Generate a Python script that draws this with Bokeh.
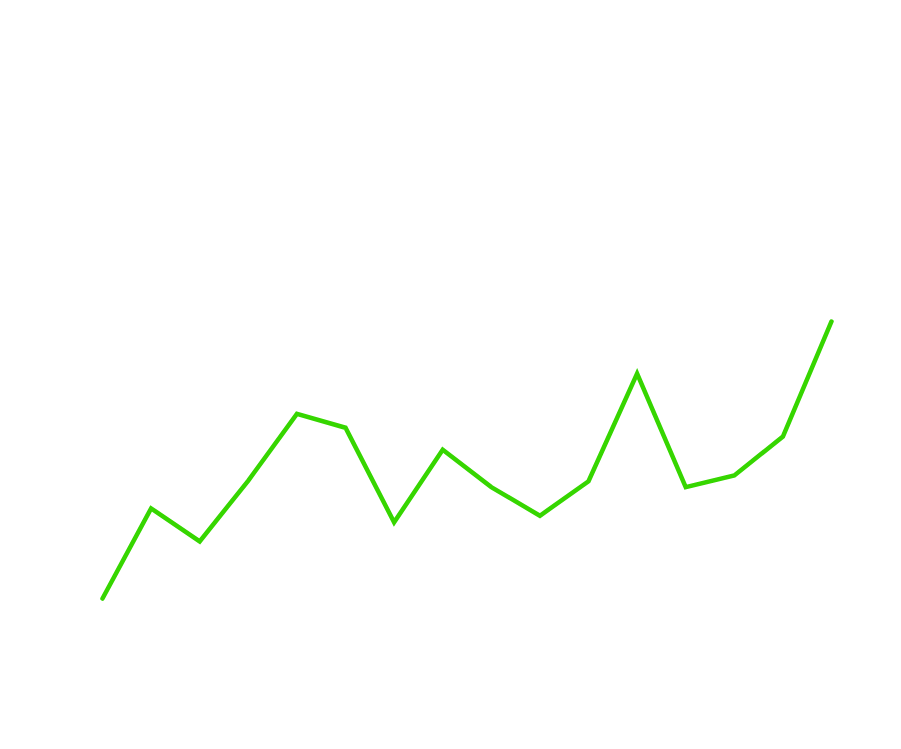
from bokeh.plotting import figure
from bokeh.models import Range1d
from bokeh.embed import file_html
from bokeh.resources import INLINE

x_index = list(range(16))
values = [19.5, 31.8, 27.3, 35.6, 44.7, 42.8, 29.9, 39.8, 34.7, 30.8, 35.5, 50.2, 34.7, 36.3, 41.6, 57.3]

p = figure(width=885, height=733, output_backend="svg", toolbar_location=None,
           x_range=Range1d(-2.099, 16.111), y_range=Range1d(1.09, 101.09),
           min_border=0)
p.axis.visible = False
p.grid.visible = False
p.outline_line_color = None
p.line(x_index, values, line_color="#36d600", line_width=4.5, line_cap="round", line_join="miter")

open("out.html", "w").write(file_html(p, INLINE))
